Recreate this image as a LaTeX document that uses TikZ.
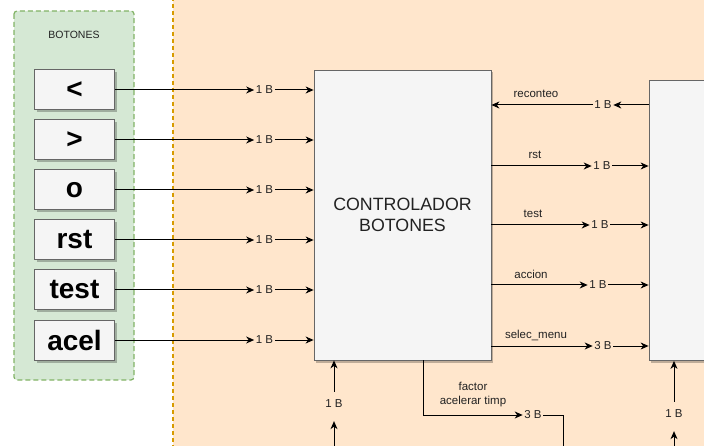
\documentclass[tikz,border=0pt]{standalone}
\usepackage{fontspec}
\setmainfont{Liberation Sans}
\usetikzlibrary{arrows.meta,shadows}
\definecolor{grfill}{HTML}{D5E8D4}
\definecolor{grdraw}{HTML}{82B366}
\definecolor{orfill}{HTML}{FFE6CC}
\definecolor{ordraw}{HTML}{D79B00}
\definecolor{boxfill}{HTML}{F5F5F5}
\definecolor{boxdraw}{HTML}{666666}
\definecolor{txt}{HTML}{222222}
\begin{document}
\begin{tikzpicture}[x=1pt,y=-1pt,
  shad/.style={drop shadow={shadow xshift=2pt,shadow yshift=-2.5pt,opacity=0.25,fill=black}},
  btn/.style={draw=boxdraw,fill=boxfill,line width=1pt,minimum width=80pt,minimum height=40pt,inner sep=0pt,font=\fontsize{28}{30}\selectfont\bfseries,shad},
  blk/.style={draw=boxdraw,fill=boxfill,line width=0.8pt,inner sep=0pt,shad},
  lbl/.style={font=\fontsize{11.5}{13}\selectfont,text=txt,inner sep=1.5pt},
  vlbl/.style={lbl,inner ysep=8pt},
  sig/.style={font=\fontsize{11.5}{14}\selectfont,text=txt,inner sep=0pt,align=center},
  wire/.style={line width=1pt,-{Stealth[length=8pt,width=7pt,inset=2.5pt]}},
  plain/.style={line width=1pt},
]
\useasboundingbox (0,0) rectangle (704,446);
\clip (0,0) rectangle (704,446);
% containers
\path[fill=orfill,draw=ordraw,dashed,line width=1.2pt,dash pattern=on 4pt off 3pt] (173,-10) rectangle (720,460);
\path[fill=grfill,draw=grdraw,line width=1.2pt,dash pattern=on 5pt off 3pt,rounded corners=3pt] (14,11) rectangle (134,380);
\node[font=\fontsize{10.5}{12}\selectfont,text=txt] (title) at (74,35) {BOTONES};
% buttons
\node[btn] (b1) at (74.5,90) {<};
\node[btn] (b2) at (74.5,140) {>};
\node[btn] (b3) at (74.5,190) {o};
\node[btn] (b4) at (74.5,240) {rst};
\node[btn] (b5) at (74.5,290) {test};
\node[btn] (b6) at (74.5,340) {acel};
% blocks
\node[blk,minimum width=177pt,minimum height=290pt,align=center,font=\fontsize{17.8}{21}\selectfont,text=txt] (ctrl) at (402.5,215) {CONTROLADOR\\ BOTONES};
\node[blk,minimum width=110pt,minimum height=280pt] (rbox) at (704,220.5) {};
% input labels and wires
\foreach \i/\y in {1/90,2/140,3/190,4/240,5/290,6/340}{
  \node[lbl] (in\i) at (264.5,\y) {1 B};
  \draw[wire] (b\i.east) -- (in\i.west);
  \draw[wire] (in\i.east) -- (ctrl.west |- in\i);
}
% outputs
\node[lbl] (o1) at (603,105) {1 B};
\node[sig] (s1) at (536,94) {reconteo};
\draw[wire] (rbox.west |- o1) -- (o1.east);
\draw[wire] (o1.west) -- (ctrl.east |- o1);

\node[lbl] (o2) at (602,166) {1 B};
\node[sig] (s2) at (535,155) {rst};
\draw[wire] (ctrl.east |- o2) -- (o2.west);
\draw[wire] (o2.east) -- (rbox.west |- o2);

\node[lbl] (o3) at (600,225) {1 B};
\node[sig] (s3) at (533,214) {test};
\draw[wire] (ctrl.east |- o3) -- (o3.west);
\draw[wire] (o3.east) -- (rbox.west |- o3);

\node[lbl] (o4) at (598,285) {1 B};
\node[sig] (s4) at (531,274) {accion};
\draw[wire] (ctrl.east |- o4) -- (o4.west);
\draw[wire] (o4.east) -- (rbox.west |- o4);

\node[lbl] (o5) at (603,346) {3 B};
\node[sig] (s5) at (536,335) {selec\_menu};
\draw[wire] (ctrl.east |- o5) -- (o5.west);
\draw[wire] (o5.east) -- (rbox.west |- o5);

% factor acelerar timp
\node[lbl] (f3) at (533,415) {3 B};
\node[sig] (sf) at (473,395) {factor\\ acelerar timp};
\coordinate (fx) at (423,415);
\coordinate (fend) at (563,460);
\draw[wire] (ctrl.south -| fx) -- (fx) -- (f3.west);
\draw[plain] (f3.east) -- (f3.east -| fend) -- (fend);

% bottom inputs
\node[vlbl] (bl) at (334,404) {1 B};
\coordinate (blend) at (334,460);
\draw[wire] (bl.north) -- (ctrl.south -| bl);
\draw[wire,shorten >=5pt] (blend) -- (bl.south);

\node[vlbl] (br) at (674,414) {1 B};
\coordinate (brend) at (674,460);
\draw[wire] (br.north) -- (rbox.south -| br);
\draw[wire,shorten >=5pt] (brend) -- (br.south);
\end{tikzpicture}
\end{document}
